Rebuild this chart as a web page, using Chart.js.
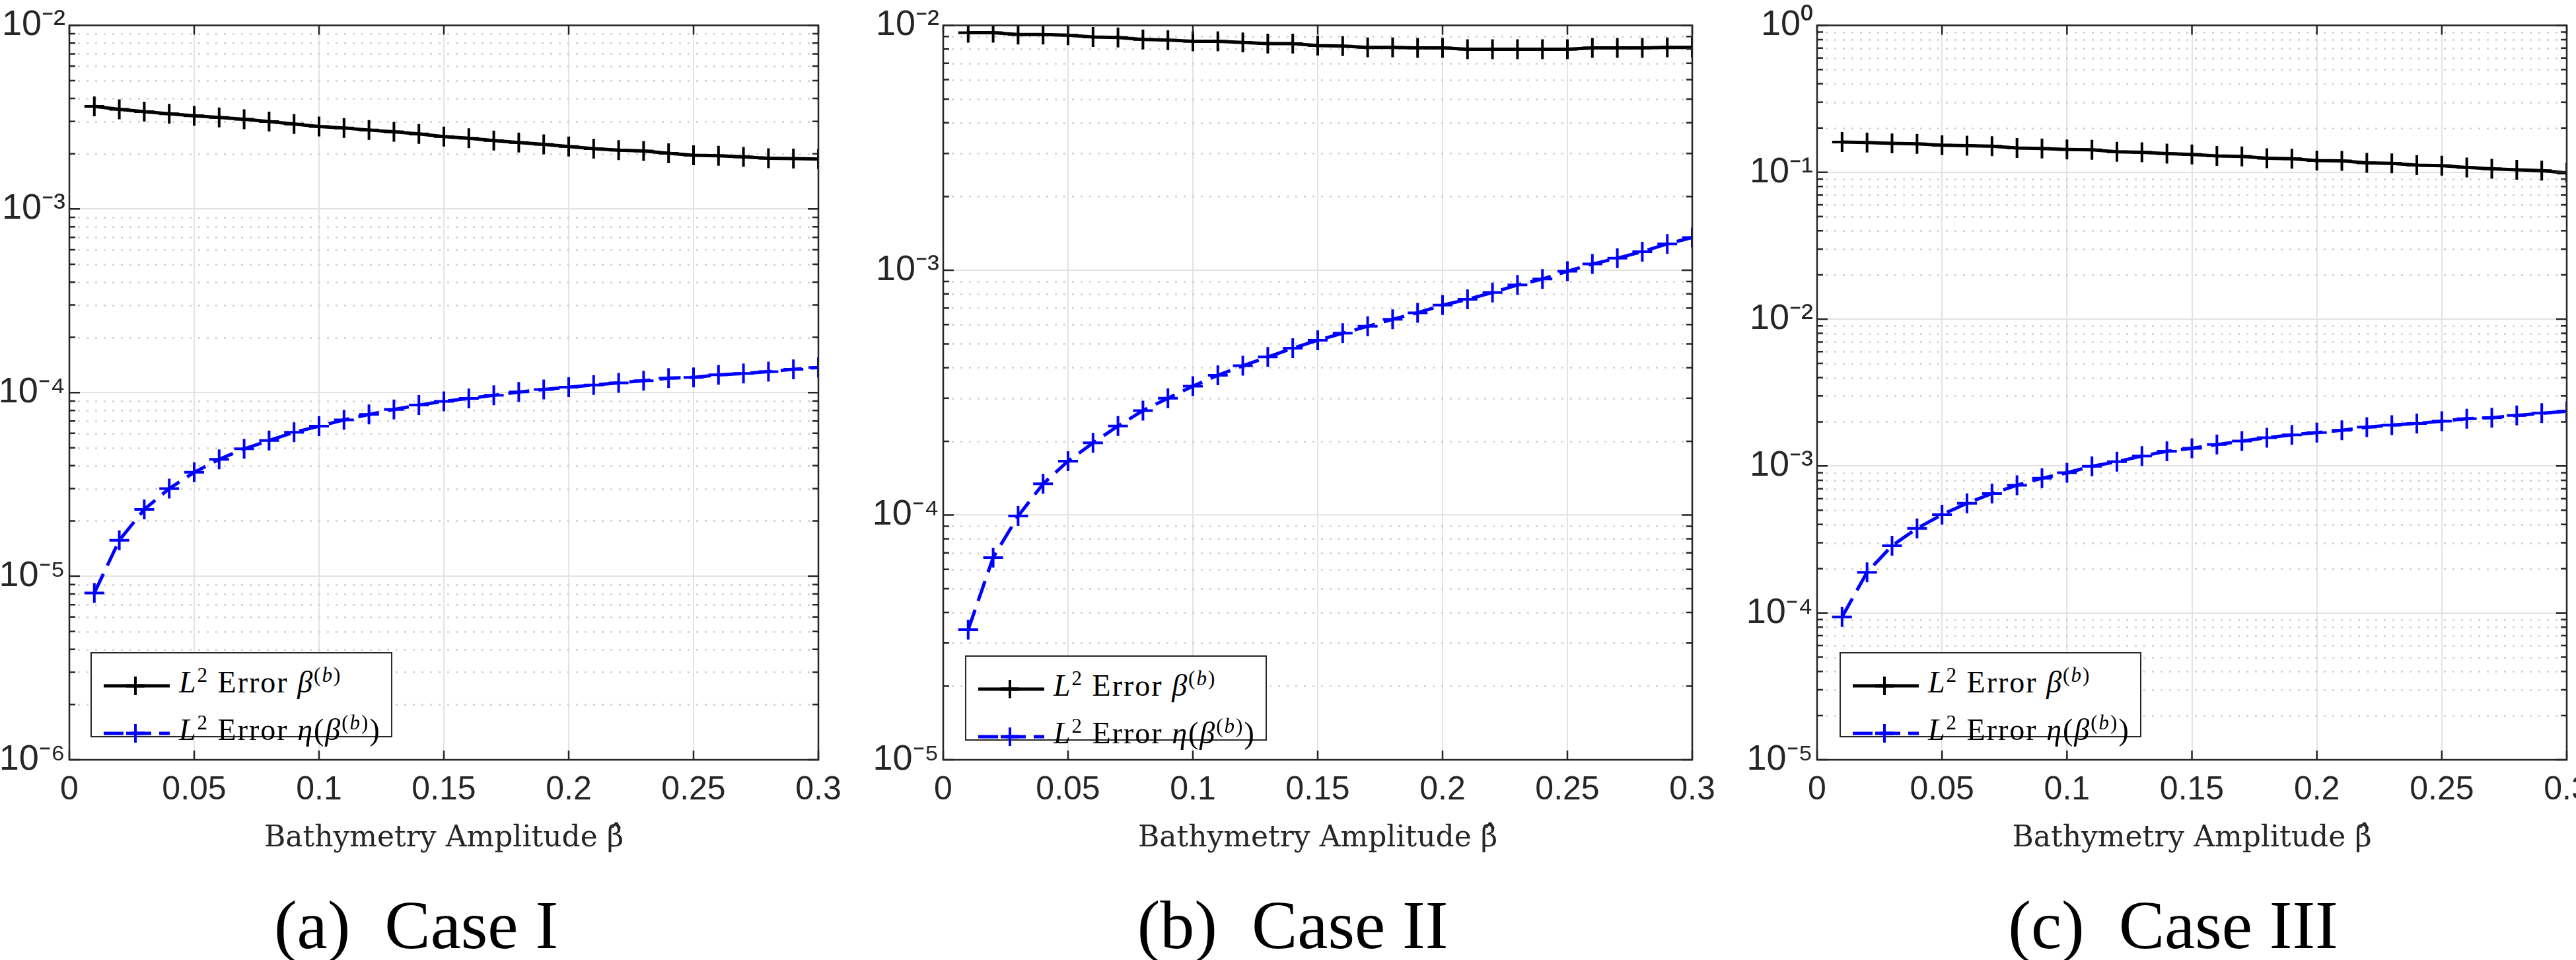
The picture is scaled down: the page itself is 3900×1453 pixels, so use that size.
<!DOCTYPE html>
<html>
<head>
<meta charset="utf-8">
<script src="https://cdn.jsdelivr.net/npm/chart.js@4/dist/chart.umd.min.js"></script>
<style>
  html, body { margin: 0; padding: 0; background: #fff; }
  body { width: 3900px; height: 1453px; position: relative; overflow: hidden; }
  .panel { position: absolute; top: 0; height: 1300px; }
  .legend {
    position: absolute; background: #fff; border: 2px solid #262626;
    font-family: "Liberation Serif", "DejaVu Serif", serif; font-size: 46px; color: #000;
    padding: 2px 10px 2px 18px; box-sizing: border-box; line-height: 61px; letter-spacing: 2px;
    white-space: nowrap;
  }
  .legend svg { vertical-align: middle; margin-right: 14px; }
  .legend sup { font-size: 31px; }
  .caption {
    position: absolute; top: 1340px; font-family: "Liberation Serif", "Times New Roman", serif;
    font-size: 104px; color: #000; white-space: pre; text-align: center; width: 1000px;
  }
</style>
</head>
<body>
<script>
// x positions: beta-hat = 0.01 ... 0.30
const amplitudes = [0.01,0.02,0.03,0.04,0.05,0.06,0.07,0.08,0.09,0.10,0.11,0.12,0.13,0.14,0.15,
                    0.16,0.17,0.18,0.19,0.20,0.21,0.22,0.23,0.24,0.25,0.26,0.27,0.28,0.29,0.30];

// Case I
const caseIBeta = [3.62e-3,3.49e-3,3.39e-3,3.30e-3,3.22e-3,3.15e-3,3.08e-3,2.99e-3,2.90e-3,2.81e-3,
                   2.76e-3,2.69e-3,2.63e-3,2.56e-3,2.48e-3,2.43e-3,2.36e-3,2.30e-3,2.25e-3,2.19e-3,
                   2.13e-3,2.09e-3,2.07e-3,2.01e-3,1.96e-3,1.95e-3,1.92e-3,1.89e-3,1.88e-3,1.87e-3];
const caseIEta = [8.1e-6,1.57e-5,2.31e-5,3.0e-5,3.68e-5,4.33e-5,4.94e-5,5.48e-5,6.08e-5,6.56e-5,
                  7.1e-5,7.6e-5,8.1e-5,8.55e-5,8.96e-5,9.3e-5,9.66e-5,1.007e-4,1.04e-4,1.07e-4,
                  1.10e-4,1.13e-4,1.16e-4,1.20e-4,1.21e-4,1.25e-4,1.27e-4,1.30e-4,1.34e-4,1.37e-4];

// Case II
const caseIIBeta = [9.33e-3,9.33e-3,9.17e-3,9.17e-3,9.12e-3,8.97e-3,8.92e-3,8.76e-3,8.71e-3,8.61e-3,
                    8.61e-3,8.52e-3,8.42e-3,8.42e-3,8.27e-3,8.23e-3,8.13e-3,8.13e-3,8.09e-3,8.09e-3,
                    7.99e-3,7.99e-3,7.99e-3,7.99e-3,7.99e-3,8.09e-3,8.09e-3,8.09e-3,8.13e-3,8.13e-3];
const caseIIEta = [3.4e-5,6.7e-5,9.9e-5,1.34e-4,1.66e-4,1.97e-4,2.31e-4,2.67e-4,3.0e-4,3.36e-4,
                   3.72e-4,4.07e-4,4.42e-4,4.8e-4,5.17e-4,5.53e-4,5.9e-4,6.3e-4,6.7e-4,7.2e-4,
                   7.6e-4,8.1e-4,8.7e-4,9.2e-4,9.9e-4,1.06e-3,1.12e-3,1.19e-3,1.28e-3,1.36e-3];

// Case III
const caseIIIBeta = [0.1606,0.1594,0.1571,0.1560,0.1527,0.1516,0.1505,0.1462,0.1451,0.1430,
                     0.1420,0.1379,0.1369,0.1340,0.1321,0.1292,0.1283,0.1246,0.1237,0.1202,
                     0.1194,0.1160,0.1151,0.1118,0.1110,0.1079,0.1056,0.1040,0.1025,0.0989];
const caseIIIEta = [9.4e-5,1.89e-4,2.87e-4,3.76e-4,4.67e-4,5.58e-4,6.5e-4,7.4e-4,8.26e-4,9.0e-4,
                    9.96e-4,1.07e-3,1.17e-3,1.26e-3,1.32e-3,1.40e-3,1.48e-3,1.56e-3,1.63e-3,1.69e-3,
                    1.75e-3,1.84e-3,1.90e-3,1.95e-3,2.02e-3,2.10e-3,2.13e-3,2.21e-3,2.29e-3,2.36e-3];

const xTicks = [0, 0.05, 0.1, 0.15, 0.2, 0.25, 0.3];
const captions = ['(a)  Case I', '(b)  Case II', '(c)  Case III'];

const panels = [
  { left: 105,  right: 1239, yMin: -6, yMax: -2, beta: caseIBeta,   eta: caseIEta,   legend: [137, 987],  cap: 630 },
  { left: 1428, right: 2562, yMin: -5, yMax: -2, beta: caseIIBeta,  eta: caseIIEta,  legend: [1461, 992], cap: 1957 },
  { left: 2751, right: 3886, yMin: -5, yMax: 0,  beta: caseIIIBeta, eta: caseIIIEta, legend: [2785, 987], cap: 3290 },
];

const AXIS_W = 105, RIGHT_PAD = 54, TOP = 30, PLOT_BOTTOM = 1150, H = 1300;
const SUP = { '-': '⁻', '0': '⁰', '1': '¹', '2': '²', '3': '³', '4': '⁴', '5': '⁵', '6': '⁶' };
const sup = (n) => String(n).split('').map(c => SUP[c]).join('');
const isDecade = (v) => Math.abs(Math.log10(v) - Math.round(Math.log10(v))) < 1e-6;

// dotted minor grid (drawn under the data)
const minorGridPlugin = {
  id: 'minorGrid',
  beforeDatasetsDraw(chart) {
    const { ctx, chartArea: a } = chart;
    const y = chart.scales.y;
    ctx.save();
    ctx.strokeStyle = '#cfcfcf';
    ctx.lineWidth = 2.5;
    ctx.setLineDash([3, 10]);
    y.ticks.forEach(t => {
      if (isDecade(t.value)) return;
      const py = Math.round(y.getPixelForValue(t.value)) + 0.5;
      ctx.beginPath(); ctx.moveTo(a.left, py); ctx.lineTo(a.right, py); ctx.stroke();
    });
    ctx.restore();
  },
};

// box and inward tick marks, as MATLAB draws them
const boxPlugin = {
  id: 'box',
  afterDraw(chart) {
    const { ctx, chartArea: a } = chart;
    const { x, y } = chart.scales;
    ctx.save();
    ctx.strokeStyle = '#262626';
    ctx.lineWidth = 2.5;
    ctx.strokeRect(a.left, a.top, a.right - a.left, a.bottom - a.top);
    ctx.beginPath();
    y.ticks.forEach(t => {
      const py = y.getPixelForValue(t.value);
      const len = isDecade(t.value) ? 16 : 9;
      ctx.moveTo(a.left, py); ctx.lineTo(a.left + len, py);
      ctx.moveTo(a.right, py); ctx.lineTo(a.right - len, py);
    });
    x.ticks.forEach(t => {
      const px = x.getPixelForValue(t.value);
      ctx.moveTo(px, a.bottom); ctx.lineTo(px, a.bottom - 14);
      ctx.moveTo(px, a.top); ctx.lineTo(px, a.top + 14);
    });
    ctx.stroke();
    ctx.restore();
  },
};

function legendLine(color, dash) {
  return `<svg width="100" height="30"><line x1="0" y1="15" x2="100" y2="15" stroke="${color}" stroke-width="5" ${dash ? 'stroke-dasharray="30 12"' : ''}/>` +
         `<line x1="48" y1="1" x2="48" y2="29" stroke="${color}" stroke-width="4"/><line x1="34" y1="15" x2="62" y2="15" stroke="${color}" stroke-width="5"/></svg>`;
}

panels.forEach((p, i) => {
  const div = document.createElement('div');
  div.className = 'panel';
  div.style.left = (p.left - AXIS_W) + 'px';
  const w = p.right - p.left + AXIS_W + RIGHT_PAD;
  div.style.width = w + 'px';
  const canvas = document.createElement('canvas');
  canvas.width = w; canvas.height = H;
  canvas.style.width = w + 'px'; canvas.style.height = H + 'px';
  div.appendChild(canvas);
  document.body.appendChild(div);

  const yTicks = [];
  for (let e = p.yMin; e < p.yMax; e++) for (let m = 1; m <= 9; m++) yTicks.push(m * Math.pow(10, e));
  yTicks.push(Math.pow(10, p.yMax));

  new Chart(canvas, {
    type: 'line',
    data: {
      datasets: [
        {
          data: amplitudes.map((x, k) => ({ x, y: p.beta[k] })),
          borderColor: '#000', backgroundColor: '#000', borderWidth: 5,
          pointStyle: 'cross', pointRadius: 15, pointBorderWidth: 4, tension: 0,
        },
        {
          data: amplitudes.map((x, k) => ({ x, y: p.eta[k] })),
          borderColor: '#0000ff', backgroundColor: '#0000ff', borderWidth: 5, borderDash: [32, 14],
          pointStyle: 'cross', pointRadius: 15, pointBorderWidth: 4, tension: 0,
        },
      ],
    },
    options: {
      responsive: false, animation: false, devicePixelRatio: 1,
      layout: { padding: { top: TOP, right: RIGHT_PAD, left: 0, bottom: 0 } },
      plugins: { legend: { display: false }, tooltip: { enabled: false } },
      scales: {
        x: {
          type: 'linear', min: 0, max: 0.3,
          afterBuildTicks: (s) => { s.ticks = xTicks.map(v => ({ value: v })); },
          afterFit: (s) => { s.height = H - PLOT_BOTTOM; },
          grid: { color: '#e3e3e3', lineWidth: 2, drawTicks: false },
          border: { display: false },
          ticks: { color: '#262626', font: { family: 'Liberation Sans', size: 50 }, padding: 16,
                   callback: (v) => String(+v.toFixed(2)), maxRotation: 0 },
          title: { display: true, text: 'Bathymetry Amplitude β̂', color: '#262626',
                   font: { family: 'DejaVu Serif', size: 44 }, padding: { top: 8 } },
        },
        y: {
          type: 'logarithmic', min: Math.pow(10, p.yMin), max: Math.pow(10, p.yMax),
          afterBuildTicks: (s) => { s.ticks = yTicks.map(v => ({ value: v })); },
          afterFit: (s) => { s.width = AXIS_W; },
          grid: {
            drawTicks: false, lineWidth: 2,
            color: (c) => isDecade(c.tick.value) ? '#e3e3e3' : 'rgba(0,0,0,0)',
          },
          border: { display: false },
          ticks: {
            color: '#262626', font: { family: 'Liberation Sans', size: 54 }, padding: 6, autoSkip: false,
            callback: (v) => isDecade(v) ? '10' + sup(Math.round(Math.log10(v))) : '',
          },
        },
      },
    },
    plugins: [minorGridPlugin, boxPlugin],
  });

  const lg = document.createElement('div');
  lg.className = 'legend';
  lg.style.left = p.legend[0] + 'px';
  lg.style.top = p.legend[1] + 'px';
  lg.style.width = '457px';
  lg.style.height = '129px';
  lg.innerHTML =
    `<div>${legendLine('#000', false)}<i>L</i><sup>2</sup> Error <i>β</i><sup>(<i>b</i>)</sup></div>` +
    `<div>${legendLine('#0000ff', true)}<i>L</i><sup>2</sup> Error <i>η</i>(<i>β</i><sup>(<i>b</i>)</sup>)</div>`;
  document.body.appendChild(lg);

  const cap = document.createElement('div');
  cap.className = 'caption';
  cap.style.left = (p.cap - 500) + 'px';
  cap.textContent = captions[i];
  document.body.appendChild(cap);
});
</script>
</body>
</html>
